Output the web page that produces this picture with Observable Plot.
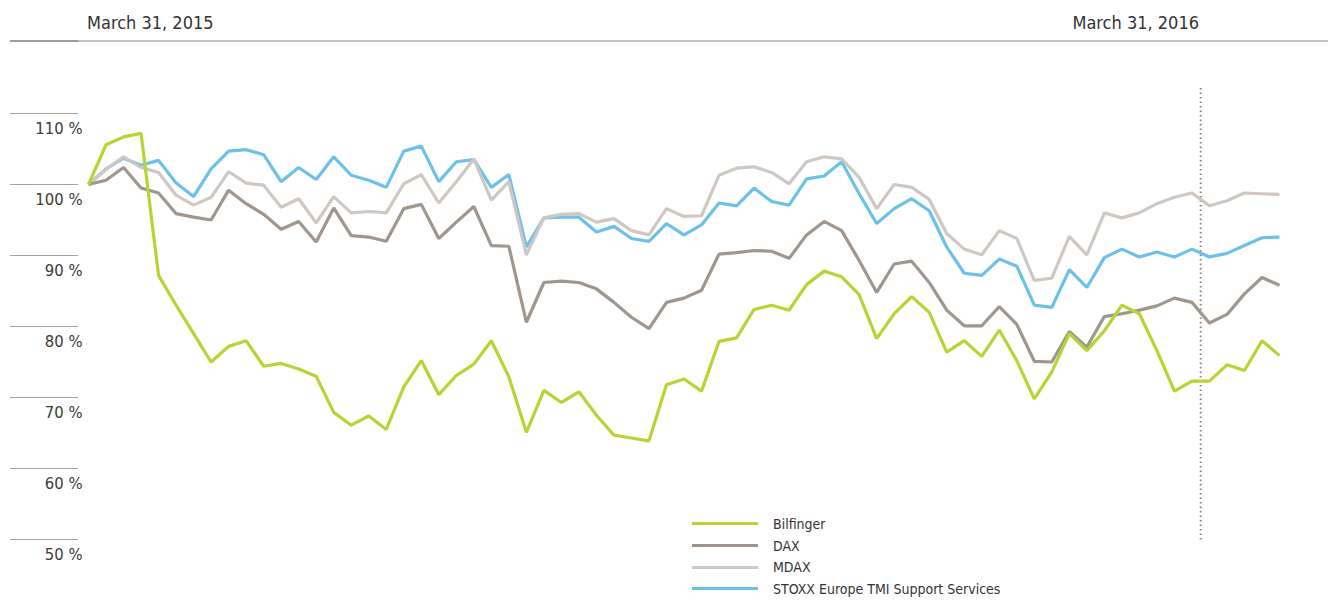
<!DOCTYPE html>
<html>
<head>
<meta charset="utf-8">
<script src="https://cdn.jsdelivr.net/npm/d3@7"></script>
<script src="https://cdn.jsdelivr.net/npm/@observablehq/plot@0.6"></script>
<style>
  body { margin: 0; background: #fff; }
  #wrap { position: relative; width: 1328px; height: 603px; overflow: hidden;
          font-family: "Liberation Sans Narrow", "DejaVu Sans Condensed", Roboto, sans-serif; color: #333; }
  #chart { position: absolute; left: 0; top: 0; }
  .hdr { position: absolute; top: 11px; font-size: 18px; line-height: 24px; color: #333; white-space: nowrap; }
  .hline { position: absolute; top: 40px; height: 1.5px; }
  #legend { position: absolute; left: 692px; top: 513px; }
  .li { display: flex; align-items: center; height: 21.7px; }
  .sw { width: 66px; height: 3px; margin-right: 15px; }
  .lt { font-size: 14px; color: #333; white-space: nowrap; }
</style>
</head>
<body>
<div id="wrap">
  <div id="chart"></div>
  <div class="hline" style="left:10px;width:68px;background:#a59c94;"></div>
  <div class="hline" style="left:78px;right:0;background:#c9c1ba;"></div>
  <div class="hdr" id="hStart" style="left:87px;"></div>
  <div class="hdr" id="hEnd" style="right:129px;"></div>
  <div id="legend"></div>
</div>
<script>
// ---- data ----
const startLabel = "March 31, 2015";
const endLabel = "March 31, 2016";
const markerIndex = 63.5; // position of March 31, 2016 between observations

const seriesNames = ["Bilfinger", "DAX", "MDAX", "STOXX Europe TMI Support Services"];
const seriesColors = ["#b6d433", "#a0968d", "#cfc8c2", "#6cc0ea"];
const yTicks = [50, 60, 70, 80, 90, 100, 110];

const bilfinger = [100.0,105.6,106.7,107.2,87.2,83.0,79.0,75.0,77.2,78.0,74.4,74.8,74.0,73.0,67.9,66.1,67.4,65.5,71.5,75.2,70.4,73.1,74.7,78.0,72.9,65.1,71.0,69.3,70.8,67.5,64.7,64.3,63.9,71.8,72.6,70.9,77.9,78.4,82.4,83.0,82.3,85.9,87.8,87.0,84.5,78.3,81.8,84.2,82.0,76.4,78.0,75.8,79.5,75.2,69.8,73.6,79.0,76.6,79.4,83.0,81.8,76.6,70.9,72.3,72.3,74.6,73.8,78.0,75.9];
const dax = [100.0,100.6,102.4,99.5,98.8,95.9,95.4,95.0,99.2,97.3,95.8,93.7,94.8,91.9,96.7,92.8,92.6,92.0,96.6,97.2,92.4,94.7,96.9,91.4,91.3,80.6,86.2,86.4,86.2,85.3,83.4,81.3,79.7,83.4,84.0,85.1,90.2,90.4,90.7,90.6,89.6,92.9,94.8,93.5,89.3,84.8,88.8,89.2,86.2,82.3,80.1,80.1,82.8,80.3,75.1,75.0,79.3,77.1,81.4,81.8,82.3,82.9,84.0,83.4,80.5,81.7,84.6,86.9,85.8];
const mdax = [100.0,102.1,103.9,102.4,101.7,98.5,97.1,98.2,101.8,100.2,99.9,96.8,98.0,94.6,98.3,96.0,96.2,96.0,100.1,101.4,97.4,100.4,103.6,97.8,100.4,90.1,95.3,95.8,95.9,94.7,95.2,93.5,92.9,96.6,95.5,95.6,101.3,102.3,102.5,101.7,100.1,103.2,103.9,103.6,101.0,96.6,100.0,99.6,97.9,93.1,90.9,90.1,93.5,92.4,86.5,86.8,92.7,90.1,96.0,95.3,96.0,97.3,98.2,98.8,97.0,97.7,98.8,98.7,98.6];
const stoxx = [100.0,102.2,103.7,102.7,103.4,100.2,98.3,102.2,104.7,104.9,104.2,100.4,102.4,100.7,103.9,101.3,100.6,99.6,104.7,105.4,100.4,103.2,103.5,99.6,101.4,91.2,95.3,95.4,95.4,93.3,94.1,92.4,92.0,94.5,92.9,94.3,97.4,97.0,99.5,97.6,97.1,100.8,101.2,103.2,98.7,94.5,96.6,98.0,96.3,91.2,87.5,87.2,89.5,88.5,83.0,82.7,88.0,85.5,89.7,90.9,89.8,90.5,89.8,90.9,89.8,90.3,91.4,92.5,92.6];

// ---- build table (draw order: bottom to top) ----
const drawOrder = [
  {name: seriesNames[3], values: stoxx},
  {name: seriesNames[2], values: mdax},
  {name: seriesNames[1], values: dax},
  {name: seriesNames[0], values: bilfinger}
];
const rows = drawOrder.flatMap(s => s.values.map((v, i) => ({series: s.name, i, value: v})));
const lastIndex = bilfinger.length - 1;

const chart = Plot.plot({
  width: 1328,
  height: 603,
  marginLeft: 88,
  marginRight: 49,
  marginTop: 113,
  marginBottom: 64,
  style: {fontFamily: '"Liberation Sans Narrow", "DejaVu Sans Condensed", Roboto, sans-serif', fontSize: "16px", color: "#444", background: "transparent"},
  x: {domain: [0, lastIndex], axis: null},
  y: {domain: [50, 110], label: null},
  color: {domain: seriesNames, range: seriesColors},
  marks: [
    Plot.axisY(yTicks, {tickSize: 68, dx: -10, fill: "none", stroke: "#aba299", strokeWidth: 1.2, label: null}),
    Plot.axisY(yTicks, {tickSize: 0, tickPadding: 6, dy: 15, fill: "#3a3a3a", fontSize: 16.5, tickFormat: d => `${d} %`, label: null}),
    Plot.ruleX([markerIndex], {stroke: "#8f857c", strokeWidth: 2, strokeDasharray: "1.5 3", insetTop: -25, insetBottom: -2}),
    Plot.line(rows, {x: "i", y: "value", z: "series", stroke: "series", strokeWidth: 3.2, strokeLinejoin: "miter", strokeLinecap: "butt"})
  ]
});
document.getElementById("chart").appendChild(chart);

document.getElementById("hStart").textContent = startLabel;
document.getElementById("hEnd").textContent = endLabel;

const legend = document.getElementById("legend");
seriesNames.forEach((name, k) => {
  const row = document.createElement("div");
  row.className = "li";
  const sw = document.createElement("div");
  sw.className = "sw";
  sw.style.background = seriesColors[k];
  const t = document.createElement("div");
  t.className = "lt";
  t.textContent = name;
  row.appendChild(sw);
  row.appendChild(t);
  legend.appendChild(row);
});
</script>
</body>
</html>
